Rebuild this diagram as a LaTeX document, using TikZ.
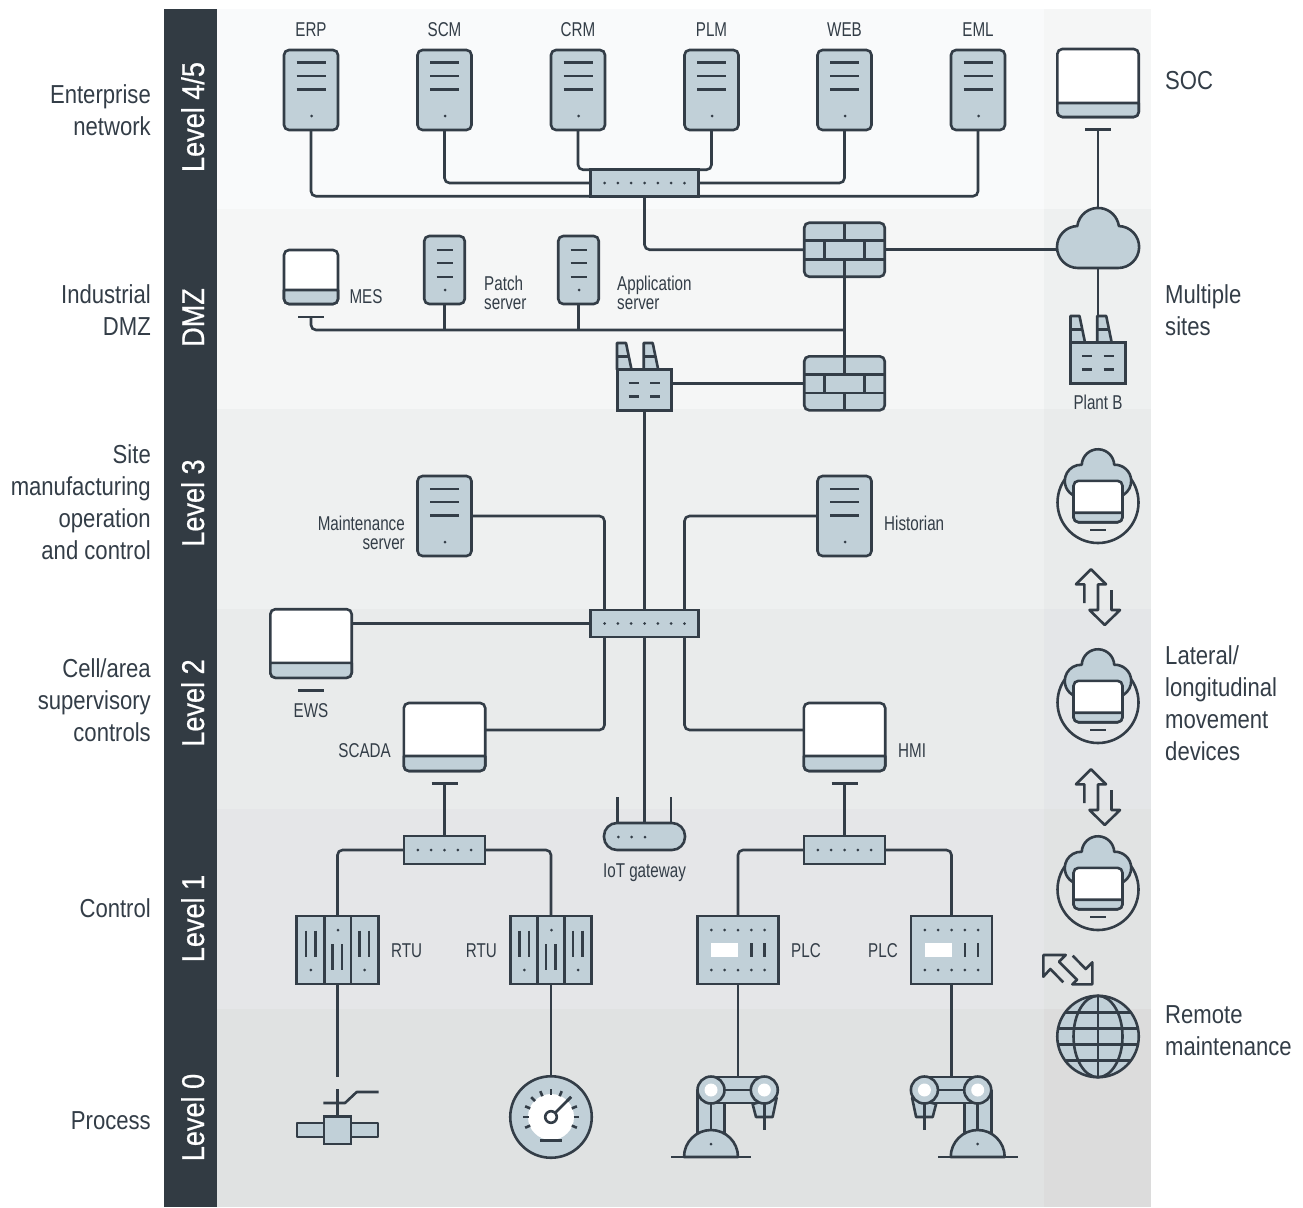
\documentclass[tikz,border=0pt]{standalone}
\usepackage{fontspec}
\setmainfont[FakeStretch=0.85]{Liberation Sans}
\newfontfamily\smallfam[FakeStretch=0.76]{Liberation Sans}
\newfontfamily\levelfam[FakeStretch=0.86,FakeBold=0.6]{Liberation Sans}
\usetikzlibrary{calc,backgrounds}
\definecolor{ink}{HTML}{333D47}
\definecolor{steel}{HTML}{C1D0D8}
\definecolor{barc}{HTML}{323B43}
\pgfdeclarelayer{bands}
\pgfdeclarelayer{wires}
\pgfsetlayers{bands,wires,main}
\tikzset{
  x=1pt,y=-1pt,
  icon/.style={draw=ink,fill=steel,line width=2.6pt,inner sep=0pt,outer sep=0pt},
  ghost/.style={inner sep=0pt,outer sep=0pt},
  ln/.style={draw=ink,line width=2.6pt},
  shp/.style={draw=ink,fill=steel,line width=2.6pt,line join=round},
  wire/.style={draw=ink,line width=2.6pt,rounded corners=5pt},
  biglab/.style={text=ink,font=\fontsize{26}{32}\selectfont,inner sep=0pt},
  smlab/.style={text=ink,font=\smallfam\fontsize{20}{19}\selectfont,inner sep=0pt},
  lvlab/.style={text=white,font=\levelfam\fontsize{31.5}{31}\selectfont,rotate=90,anchor=base,inner sep=0pt},
}
\newcommand\ServerIcon[3]{%
  \node[icon,rounded corners=5pt,minimum width=54pt,minimum height=80pt] (#1) at (#2,#3) {};
  \begin{scope}[shift={(#2,#3)}]
    \draw[ln] (-14.5,-27.2) -- (14.5,-27.2) (-14.5,-14) -- (14.5,-14) (-14.5,-0.5) -- (14.5,-0.5);
    \fill[ink] (0.5,26) circle (1.5);
  \end{scope}}
\newcommand\SlimServerIcon[3]{%
  \node[icon,rounded corners=5pt,minimum width=40.5pt,minimum height=68pt] (#1) at (#2,#3) {};
  \begin{scope}[shift={(#2,#3)}]
    \draw[ln] (-8,-20) -- (8,-20) (-8,-7) -- (8,-7) (-8,7) -- (8,7);
    \fill[ink] (0.5,20) circle (1.5);
  \end{scope}}
% name x y halfw halfh band barhalfw baroffset
\newcommand\MonitorIcon[8]{%
  \node[icon,fill=white,rounded corners=5pt,minimum width=2*#4 pt,minimum height=2*#5 pt] (#1) at (#2,#3) {};
  \begin{scope}[shift={(#2,#3)}]
    \draw[shp] (-#4,#5-#6) [rounded corners=5pt] -- (-#4,#5) -- (#4,#5) [sharp corners] -- (#4,#5-#6) -- cycle;
    \coordinate (#1bar) at (0,#5+#8);
    \draw[ln] (-#7,#5+#8) -- (#7,#5+#8);
  \end{scope}}
% name x y w h n
\newcommand\SwitchIcon[6]{%
  \node[icon,minimum width=#4 pt,minimum height=#5 pt] (#1) at (#2,#3) {};
  \foreach \i in {1,...,#6}{%
    \pgfmathsetmacro\dx{(\i-(#6+1)/2)*13.33}
    \fill[ink] ($(#2,#3)+(\dx,0)$) circle (1.5);}}
\newcommand\FirewallIcon[3]{%
  \node[icon,rounded corners=5pt,minimum width=80.5pt,minimum height=54pt] (#1) at (#2,#3) {};
  \begin{scope}[shift={(#2,#3)}]
    \draw[ln] (-40,-9) -- (40,-9) (-40,9.5) -- (40,9.5) (0,-27) -- (0,-9) (0,9.5) -- (0,27)
      (-20,-9) -- (-20,9.5) (20,-9) -- (20,9.5);
  \end{scope}}
\newcommand\FactoryIcon[3]{%
  \begin{scope}[shift={(#2,#3)}]
    \foreach \o in {0,26.7}{%
      \begin{scope}[shift={(\o,0)}]
        \draw[shp] (-27.5,-20.5) -- (-27.5,-47) -- (-18.5,-47) -- (-13,-20.5) -- cycle;
        \draw[ln] (-27.5,-33.5) -- (-16,-33.5);
      \end{scope}}
  \end{scope}
  \node[icon,minimum width=54.5pt,minimum height=41pt] (#1) at (#2,#3) {};
  \begin{scope}[shift={(#2,#3)}]
    \draw[ln] (-16,-7) -- (-6,-7) (5.5,-7) -- (15.5,-7) (-16,6.5) -- (-6,6.5) (5.5,6.5) -- (15.5,6.5);
  \end{scope}}
\newcommand\RtuIcon[3]{%
  \node[icon,minimum width=81.5pt,minimum height=68pt] (#1) at (#2,#3) {};
  \begin{scope}[shift={(#2,#3)}]
    \draw[ln] (-13.3,-34) -- (-13.3,34) (13.5,-34) -- (13.5,34)
      (-31.5,-19.5) -- (-31.5,6.5) (-22.2,-19.5) -- (-22.2,6.5)
      (-5,-6) -- (-5,20) (4.5,-6) -- (4.5,20)
      (21.8,-19.5) -- (21.8,6.5) (31.5,-19.5) -- (31.5,6.5);
    \fill[ink] (-26.7,20) circle (1.5) (0.5,-20) circle (1.5) (27.2,20) circle (1.5);
  \end{scope}}
\newcommand\PlcIcon[3]{%
  \node[icon,minimum width=81pt,minimum height=68pt] (#1) at (#2,#3) {};
  \begin{scope}[shift={(#2,#3)}]
    \foreach \dx in {-26.6,-13.3,0,13.3,26.6}{%
      \fill[ink] (\dx,-20) circle (1.5) (\dx,20) circle (1.5);}
    \fill[white] (-27,-7) rectangle (0,7);
    \draw[ln] (13.3,-7) -- (13.3,7) (26.6,-7) -- (26.6,7);
  \end{scope}}
% name x xscale
\newcommand\RobotIcon[3]{%
  \node[ghost,minimum width=107pt,minimum height=80pt] (#1) at (#2,1117) {};
  \begin{scope}[shift={(#2,1090)},xscale=#3]
    \draw[shp] (-40.3,0) rectangle (-13.3,45);
    \draw[ln] (-26.6,0) -- (-26.6,42);
    \draw[shp] (-26.6,-13) rectangle (26.7,13);
    \draw[ln] (-26.6,0) -- (26.7,0);
    \draw[shp] (15,14) -- (18.4,27) -- (35,27) -- (39,8) -- cycle;
    \draw[ln] (26.7,14) -- (26.7,40);
    \draw[shp] (-26.6,0) circle (13.5) (26.7,0) circle (13.5);
    \fill[white] (-26.6,0) circle (6.5) (26.7,0) circle (6.5);
    \draw[shp] (-53.6,67) arc (180:360:27) -- cycle;
    \draw[ln] (-66.6,67) -- (13,67);
    \fill[ink] (-26.6,54) circle (1.5);
  \end{scope}}
% icon of cloud, monitor, circle
\newcommand\RoamIcon[3]{%
  \node[draw=ink,line width=2.6pt,inner sep=0pt,outer sep=0pt,circle,minimum size=81pt] (#1) at (#2,#3) {};
  \begin{scope}[shift={(#2,#3-37)}]
    \draw[shp] (-17,31.75) arc (90:272.6:16.25) arc (182.6:357.4:16.25) arc (267.4:450:16.25) -- cycle;
  \end{scope}
  \MonitorIcon{#1scr}{#2}{#3-1}{24.5}{20.7}{9.5}{8}{7.8}}
\newcommand\UpDown[1]{%
  \begin{scope}[yshift=-#1 pt]
    \draw[ink,line width=2.6pt,line join=round]
      (1084.3,603) -- (1084.3,584.3) -- (1076,584.3) -- (1091,569.3) -- (1106,584.3) -- (1098,584.3)
      -- (1098,610) -- (1089.5,610) -- (1104.7,625) -- (1120,610) -- (1111.5,610) -- (1111.5,590);
  \end{scope}}
\begin{document}
\begin{tikzpicture}
\useasboundingbox (0,0) rectangle (1303,1207);
\begin{pgfonlayer}{bands}
  \fill[white] (0,0) rectangle (1303,1207);
  \fill[barc] (164,9) rectangle (217,1207);
  \fill[fill={rgb,255:red,249;green,250;blue,251}] (217,9) rectangle (1044,209);
  \fill[fill={rgb,255:red,245;green,246;blue,246}] (217,209) rectangle (1044,409);
  \fill[fill={rgb,255:red,238;green,240;blue,240}] (217,409) rectangle (1044,609);
  \fill[fill={rgb,255:red,233;green,235;blue,235}] (217,609) rectangle (1044,809);
  \fill[fill={rgb,255:red,229;green,230;blue,232}] (217,809) rectangle (1044,1009);
  \fill[fill={rgb,255:red,224;green,226;blue,226}] (217,1009) rectangle (1044,1207);
  \fill[fill={rgb,255:red,245;green,246;blue,246}] (1044,9) rectangle (1151,209);
  \fill[fill={rgb,255:red,238;green,240;blue,240}] (1044,209) rectangle (1151,409);
  \fill[fill={rgb,255:red,233;green,235;blue,235}] (1044,409) rectangle (1151,609);
  \fill[fill={rgb,255:red,228;green,230;blue,232}] (1044,609) rectangle (1151,809);
  \fill[fill={rgb,255:red,225;green,227;blue,227}] (1044,809) rectangle (1151,1009);
  \fill[fill={rgb,255:red,220;green,220;blue,220}] (1044,1009) rectangle (1151,1207);
\end{pgfonlayer}

% level labels
\node[lvlab] (l45) at (204,117) {Level 4/5};
\node[lvlab] (ldmz) at (204,317.5) {DMZ};
\node[lvlab] (l3) at (204,503) {Level 3};
\node[lvlab] (l2) at (204,703) {Level 2};
\node[lvlab] (l1) at (204,918.5) {Level 1};
\node[lvlab] (l0) at (204,1117.5) {Level 0};

% left labels
\node[biglab,align=right,anchor=east] (tl1) at (151,110) {Enterprise\\network};
\node[biglab,align=right,anchor=east] (tl2) at (151,310) {Industrial\\DMZ};
\node[biglab,align=right,anchor=east] (tl3) at (151,502) {Site\\manufacturing\\operation\\and control};
\node[biglab,align=right,anchor=east] (tl4) at (151,700) {Cell/area\\supervisory\\controls};
\node[biglab,align=right,anchor=east] (tl5) at (151,908) {Control};
\node[biglab,align=right,anchor=east] (tl6) at (151,1121) {Process};
% right labels
\node[biglab,align=left,anchor=west] (tr1) at (1165,81) {SOC};
\node[biglab,align=left,anchor=west] (tr2) at (1165,310) {Multiple\\sites};
\node[biglab,align=left,anchor=west] (tr3) at (1165,703) {Lateral/\\longitudinal\\movement\\devices};
\node[biglab,align=left,anchor=west] (tr4) at (1165,1031) {Remote\\maintenance};

% servers
\ServerIcon{erp}{311}{90}
\ServerIcon{scm}{444.5}{90}
\ServerIcon{crm}{578}{90}
\ServerIcon{plm}{711.5}{90}
\ServerIcon{web}{844.5}{90}
\ServerIcon{eml}{978}{90}
\node[smlab,anchor=base] (terp) at (311,37) {ERP};
\node[smlab,anchor=base] (tscm) at (444.5,37) {SCM};
\node[smlab,anchor=base] (tcrm) at (578,37) {CRM};
\node[smlab,anchor=base] (tplm) at (711.5,37) {PLM};
\node[smlab,anchor=base] (tweb) at (844.5,37) {WEB};
\node[smlab,anchor=base] (teml) at (978,37) {EML};

\MonitorIcon{soc}{1098}{83}{40.7}{34}{14}{13}{12.5}
\MonitorIcon{mes}{311}{277}{27}{27}{14}{13}{13}
\SlimServerIcon{patch}{444.5}{270}
\SlimServerIcon{app}{578.5}{270}
\node[smlab,anchor=base] (tmes) at (366,303) {MES};
\node[smlab,anchor=west,align=left,font=\smallfam\fontsize{20}{19}\selectfont] (tpatch) at (484,293) {Patch\\server};
\node[smlab,anchor=west,align=left,font=\smallfam\fontsize{20}{19}\selectfont] (tapp) at (617,293) {Application\\server};

\SwitchIcon{swtop}{644.5}{183}{107.5}{26.5}{7}
\FirewallIcon{fwa}{844.5}{249.7}
\FirewallIcon{fwb}{844.5}{383.3}
\FactoryIcon{plant}{644.5}{390}
\FactoryIcon{plantb}{1098}{363}
\node[smlab,anchor=base] (tplantb) at (1098,409) {Plant B};

% cloud
\node[ghost,minimum width=82pt,minimum height=60pt] (cloud) at (1098,238) {};
\draw[shp] (1078,268) arc (90:268:21) arc (188:352:21) arc (272:450:21) -- cycle;

% level 3
\ServerIcon{maint}{444.5}{516}
\ServerIcon{hist}{844.5}{516}
\node[smlab,anchor=east,align=right,font=\smallfam\fontsize{20}{19}\selectfont] (tmaint) at (405,533) {Maintenance\\server};
\node[smlab,anchor=base west] (thist) at (884,530.5) {Historian};

\RoamIcon{roama}{1098}{502.5}
\RoamIcon{roamb}{1098}{702.5}
\RoamIcon{roamc}{1098}{889.5}

\UpDown{0}
\UpDown{200}
\draw[ink,line width=2.6pt,line join=round]
  (1063.3,982.3) -- (1050.3,969) -- (1043.3,976.7) -- (1043.3,955) -- (1065.7,955) -- (1059,961.7)
  -- (1077,979.7) -- (1072.3,984.3) -- (1092.3,984.3) -- (1092.3,962.3) -- (1085.7,969) -- (1072.7,955.7);

% globe
\node[icon,circle,minimum size=81.5pt] (globe) at (1098,1036.5) {};
\begin{scope}[shift={(1098,1036.5)}]
  \draw[ln] (0,0) ellipse (24.5 and 40.7);
  \draw[ln] (0,-40.7) -- (0,40.7) (-33.2,-24) -- (33.2,-24) (-40.2,-8) -- (40.2,-8) (-40.2,8) -- (40.2,8) (-33.2,24) -- (33.2,24);
\end{scope}

% level 2
\SwitchIcon{swmid}{644.5}{623.5}{107.5}{27}{7}
\MonitorIcon{ews}{311}{643.5}{40.7}{34.3}{15}{13}{12.5}
\MonitorIcon{scada}{444.5}{737}{40.7}{34}{15}{13}{12.5}
\MonitorIcon{hmi}{844.5}{737}{40.7}{34}{15}{13}{12.5}
\node[smlab,anchor=base] (tews) at (311,717) {EWS};
\node[smlab,anchor=base east] (tscada) at (391,757) {SCADA};
\node[smlab,anchor=base west] (thmi) at (898,757) {HMI};

% IoT gateway
\node[icon,rounded corners=13pt,minimum width=81pt,minimum height=27pt] (iot) at (644.5,836.5) {};
\fill[ink] (618.3,837) circle (1.5) (631.6,837) circle (1.5) (645,837) circle (1.5);
\node[smlab,anchor=base] (tiot) at (644.5,877) {IoT gateway};

% level 1
\SwitchIcon{swa}{444.5}{850}{81}{28}{5}
\SwitchIcon{swb}{844.5}{850}{81}{28}{5}
\RtuIcon{rtua}{337.5}{950}
\RtuIcon{rtub}{551}{950}
\PlcIcon{plca}{738}{950}
\PlcIcon{plcb}{951.5}{950}
\node[smlab,anchor=base west] (trtua) at (391,957) {RTU};
\node[smlab,anchor=base east] (trtub) at (497,957) {RTU};
\node[smlab,anchor=base west] (tplca) at (791,957) {PLC};
\node[smlab,anchor=base east] (tplcb) at (898,957) {PLC};

% level 0 : valve
\coordinate (valvetop) at (337.5,1077);
\begin{scope}[shift={(337.5,1130)}]
  \draw[ln] (0,-41) -- (0,-14);
  \draw[ln,line join=round] (-14.2,-27) -- (7.5,-27) -- (19.2,-38) -- (41,-38);
  \draw[shp] (-40.5,-7) rectangle (40.5,7);
  \draw[shp,line join=miter] (-13.5,-13.5) rectangle (13.5,14);
\end{scope}
% gauge
\node[icon,circle,minimum size=81.5pt] (gauge) at (551,1117) {};
\begin{scope}[shift={(551,1117)}]
  \fill[white] (0,0) circle (23);
  \foreach \a in {-202.5,-180,-157.5,-135,-112.5,-90,-67.5,-45,-22.5,0,22.5}{%
    \draw[ln] (\a:22.5) -- (\a:28);}
  \draw[ln] (0,0) -- (-45:28.5);
  \draw[ln,fill=white] (0,0) circle (5.8);
  \draw[ln] (-11,23.5) -- (11,23.5);
\end{scope}
\RobotIcon{robota}{737.6}{1}
\RobotIcon{robotb}{951.1}{-1}

% connectors
\begin{pgfonlayer}{wires}
  \coordinate (lvlrobot) at (0,1077);
  \coordinate (anta) at (617.7,797);
  \coordinate (antb) at (671,797);
  \draw[wire] (erp.south) |- (swtop.south west);
  \draw[wire] (eml.south) |- (swtop.south east);
  \draw[wire] (scm.south) |- (swtop.west);
  \draw[wire] (web.south) |- (swtop.east);
  \draw[wire] (crm.south) |- (swtop.north) -| (plm.south);
  \draw[wire] (swtop.south) |- (fwa.west);
  \draw[wire] (fwa.east) -- (fwa.east -| cloud.west);
  \draw[wire] (socbar) -- (cloud.north);
  \draw[wire] (cloud.south) -- (plantb.north);
  \draw[wire] (fwa.south) -- (fwb.north);
  \coordinate (dmzbus) at ($(fwa.south)+(0,53.3)$);
  \draw[wire] (mesbar) |- (dmzbus);
  \draw[wire] (patch.south) -- (patch.south |- dmzbus);
  \draw[wire] (app.south) -- (app.south |- dmzbus);
  \draw[wire] (fwb.west) -- (fwb.west -| plant.east);
  \draw[wire] (plant.south) -- (iot.north);
  \coordinate (swmidl) at ($(swmid.center)+(-40,0)$);
  \coordinate (swmidr) at ($(swmid.center)+(40,0)$);
  \draw[wire] (maint.east) -| (swmidl);
  \draw[wire] (hist.west) -| (swmidr);
  \draw[wire] (ews.east |- swmid.west) -- (swmid.west);
  \draw[wire] ([yshift=7pt]scada.east) -| (swmidl);
  \draw[wire] ([yshift=7pt]hmi.west) -| (swmidr);
  \draw[wire] (scadabar) -- (swa.north);
  \draw[wire] (hmibar) -- (swb.north);
  \draw[wire] (swa.west) -| (rtua.north);
  \draw[wire] (swa.east) -| (rtub.north);
  \draw[wire] (swb.west) -| (plca.north);
  \draw[wire] (swb.east) -| (plcb.north);
  \draw[wire] (rtua.south) -- (valvetop);
  \draw[wire] (rtub.south) -- (gauge.north);
  \draw[wire] (plca.south) -- (plca.south |- lvlrobot);
  \draw[wire] (plcb.south) -- (plcb.south |- lvlrobot);
  \draw[ln] (anta |- iot.north) -- (anta);
  \draw[ln] (antb |- iot.north) -- (antb);
\end{pgfonlayer}
\end{tikzpicture}
\end{document}
